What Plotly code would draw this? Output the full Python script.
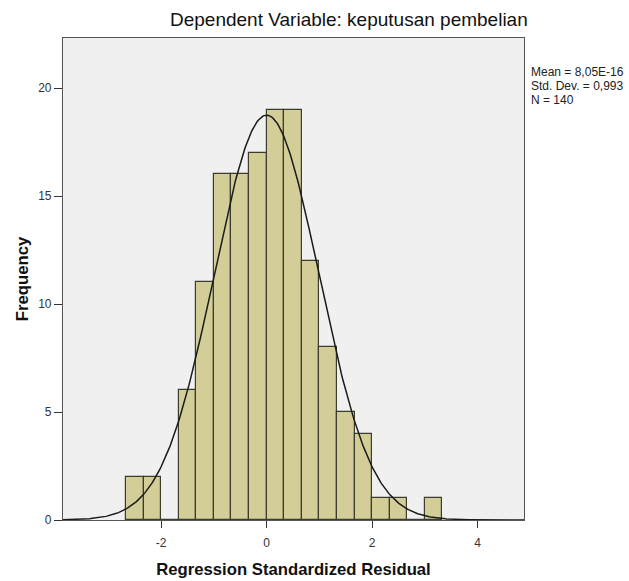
import numpy as np
import plotly.graph_objects as go

# Histogram data (bin width 1/3, left edges)
bin_width = 1.0 / 3.0
bin_left = [-8/3, -7/3, -2, -5/3, -4/3, -1, -2/3, -1/3, 0, 1/3, 2/3, 1, 4/3, 5/3, 2, 7/3, 8/3, 3]
counts = [2, 2, 0, 6, 11, 16, 16, 17, 19, 19, 12, 8, 5, 4, 1, 1, 0, 1]

mean_val = 8.05e-16
sd_val = 0.993
n_val = 140
stats_lines = ["Mean = 8,05E-16", "Std. Dev. = 0,993", "N = 140"]

x_range = [-3.86, 4.88]
y_range = [0, 22.32]
x_ticks = [-2, 0, 2, 4]
y_ticks = [0, 5, 10, 15, 20]

centers = [l + bin_width / 2 for l in bin_left]

fig = go.Figure()
fig.add_trace(go.Bar(
    x=centers, y=counts, width=bin_width,
    marker=dict(color="#D3CE98", line=dict(color="#3B3B2E", width=1.2)),
    showlegend=False, hoverinfo="skip",
))

xs = np.linspace(x_range[0], x_range[1], 400)
ys = n_val * bin_width / (sd_val * np.sqrt(2 * np.pi)) * np.exp(-0.5 * ((xs - mean_val) / sd_val) ** 2)
fig.add_trace(go.Scatter(x=xs, y=ys, mode="lines",
                         line=dict(color="#1A1A1A", width=1.5),
                         showlegend=False, hoverinfo="skip"))

fig.update_layout(
    width=629, height=581,
    margin=dict(l=63, r=105, t=38, b=61),
    paper_bgcolor="white", plot_bgcolor="#F0F0F0",
    font=dict(family="Liberation Sans, Arial, sans-serif", color="#222222"),
    bargap=0,
)
fig.update_xaxes(
    automargin=False,
    range=x_range, tickvals=x_ticks, ticktext=[str(t) for t in x_ticks],
    ticks="outside", ticklen=7, tickcolor="#333333", tickfont=dict(size=12, color="#333333"),
    ticklabelstandoff=4,
    showgrid=False, zeroline=False, showline=True, linecolor="#555555", linewidth=1.2, mirror=True,
    title=dict(text="<b>Regression Standardized Residual</b>", font=dict(size=16.7, color="#111111"), standoff=14),
)
fig.update_yaxes(
    automargin=False,
    range=y_range, tickvals=y_ticks, ticktext=[str(t) for t in y_ticks],
    ticks="outside", ticklen=8, tickcolor="#333333", tickfont=dict(size=12, color="#333333"),
    showgrid=False, zeroline=False, showline=True, linecolor="#555555", linewidth=1.2, mirror=True,
    title=dict(text="<b>Frequency</b>", font=dict(size=16.7, color="#111111"), standoff=5),
)

# Title
fig.add_annotation(text="Dependent Variable: keputusan pembelian", xref="paper", yref="paper",
                   x=(349 - 63) / (629 - 63 - 105), y=1, yshift=19, xanchor="center", yanchor="middle",
                   showarrow=False, font=dict(size=19, color="#111111"))

# Stats box text
for i, s in enumerate(stats_lines):
    fig.add_annotation(text=s, xref="paper", yref="paper",
                       x=1, xshift=5, y=1, yshift=-(72 - 38) - 14 * i,
                       xanchor="left", yanchor="middle", showarrow=False,
                       font=dict(size=12, color="#222222"))

fig.write_html("out.html", config={"displayModeBar": False},
               post_script="document.body.style.margin='0';document.body.style.overflow='hidden';")
